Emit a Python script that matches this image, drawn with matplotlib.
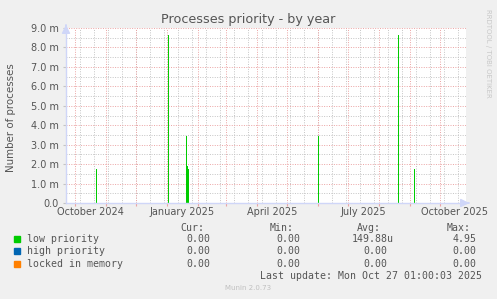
import pandas as pd
import matplotlib
matplotlib.use('Agg')
import matplotlib.pyplot as plt
import matplotlib.ticker as ticker

# data (daily averages, 1 px = 1 day)
spike_dates = ['2024-10-22', '2025-01-02', '2025-01-20', '2025-01-21', '2025-01-22',
               '2025-06-01', '2025-08-20', '2025-09-05']
low_priority = [1.74e-3, 8.65e-3, 3.47e-3, 1.9e-3, 1.74e-3, 3.47e-3, 8.65e-3, 1.74e-3]

x_labels = ['October 2024', 'January 2025', 'April 2025', 'July 2025', 'October 2025']
x_label_months = ['2024-10-01', '2025-01-01', '2025-04-01', '2025-07-01', '2025-10-01']

legend_names = ['low priority', 'high priority', 'locked in memory']
legend_colors = ['#00CC00', '#0066B3', '#FF8000']
cur_vals = ['0.00', '0.00', '0.00']
min_vals = ['0.00', '0.00', '0.00']
avg_vals = ['149.88u', '0.00', '0.00']
max_vals = ['4.95', '0.00', '0.00']

end = pd.Timestamp('2025-10-27 01:00:03')
start = end - pd.Timedelta(days=400)

FONT = '#555555'
MGRID = '#EBA3A3'
GRID = '#C4C4C4'
AXIS = '#CFD6F8'

W, H = 497, 299
fig = plt.figure(figsize=(W / 100, H / 100), dpi=100, facecolor='#F0F0F0')
L, R, T, B = 66, 466, 28, 203
ax = fig.add_axes([L / W, 1 - B / H, (R - L) / W, (B - T) / H])
ax.set_facecolor('white')

ax.set_xlim(start, end)
ax.set_ylim(0, 9e-3)

# grid, drawn by hand like rrdtool (dotted)
dots = (0, (1, 1.5))
for d in pd.date_range('2024-09-22', end, freq='14D'):
    if d > start:
        ax.axvline(d, color=GRID, lw=0.7, ls=dots, zorder=0)
for d in pd.date_range('2024-10-01', end, freq='MS'):
    ax.axvline(d, color=MGRID, lw=0.7, ls=dots, zorder=0)
for i in range(19):
    v = i * 0.5e-3
    ax.axhline(v, color=MGRID if i % 2 == 0 else GRID, lw=0.7, ls=dots, zorder=0)

xs = pd.to_datetime(spike_dates) + pd.Timedelta(hours=12)
ax.bar(xs, low_priority, width=1.7, color=legend_colors[0], zorder=3)

# ticks
ax.set_yticks([i * 1e-3 for i in range(10)])
ax.yaxis.set_major_formatter(ticker.FuncFormatter(
    lambda v, p: '0.0' if v == 0 else '%.1f m' % (v * 1000)))
ax.set_xticks(pd.date_range('2024-10-01', end, freq='MS'))
ax.set_xticklabels([])
ax.set_xticks(pd.to_datetime(x_label_months) + pd.Timedelta(days=15), x_labels, minor=True)
ax.tick_params(axis='x', which='major', length=2, color=MGRID, direction='out')
ax.tick_params(axis='x', which='minor', length=0, pad=3, labelsize=7, labelcolor=FONT)
ax.tick_params(axis='y', length=2, color=GRID, pad=3, labelsize=7, labelcolor=FONT)

for s in ['top', 'right']:
    ax.spines[s].set_visible(False)
for s in ['left', 'bottom']:
    ax.spines[s].set_color(AXIS)
    ax.spines[s].set_linewidth(1)
    ax.spines[s].set_zorder(4)

# axis arrows
ax.annotate('', xy=((472 - L) / (R - L), 0), xytext=(1, 0), xycoords='axes fraction',
            arrowprops=dict(arrowstyle='-|>,head_length=0.5,head_width=0.25', color=AXIS, lw=1),
            annotation_clip=False)
ax.annotate('', xy=(0, 1 + 6 / (B - T)), xytext=(0, 1), xycoords='axes fraction',
            arrowprops=dict(arrowstyle='-|>,head_length=0.5,head_width=0.25', color=AXIS, lw=1),
            annotation_clip=False)

ax.set_ylabel('Number of processes', fontsize=7.4, color=FONT)
ax.yaxis.set_label_coords(-(L - 16) / (R - L), 0.49)

fig.text(248 / W, 1 - 20 / H, 'Processes priority - by year', ha='center', va='center',
         fontsize=9.2, color=FONT)
fig.text(488 / W, 1 - 53 / H, 'RRDTOOL / TOBI OETIKER', rotation=270, ha='center', va='center',
         fontsize=5, color='#C8C8C8')

# legend block
mono = 'DejaVu Sans Mono'
fs = 7.1
cols = [(204.7, 'Cur:'), (294, 'Min:'), (381, 'Avg:'), (470.7, 'Max:')]
for x, head in cols:
    fig.text(x / W, 1 - 228.3 / H, head, ha='right', va='center', family=mono, fontsize=fs, color=FONT)
rows_y = [239.3, 251.3, 263.7]
for i, name in enumerate(legend_names):
    y = 1 - rows_y[i] / H
    fig.patches.append(plt.Rectangle((14 / W, 1 - (rows_y[i] + 3) / H), 6 / W, 6 / H,
                                     transform=fig.transFigure, color=legend_colors[i]))
    fig.text(26.7 / W, y, name, ha='left', va='center', family=mono, fontsize=fs, color=FONT)
    fig.text(210.7 / W, y, cur_vals[i], ha='right', va='center', family=mono, fontsize=fs, color=FONT)
    fig.text(300 / W, y, min_vals[i], ha='right', va='center', family=mono, fontsize=fs, color=FONT)
    avg_x = 393.3 if avg_vals[i].endswith('u') else 387.7
    fig.text(avg_x / W, y, avg_vals[i], ha='right', va='center', family=mono, fontsize=fs, color=FONT)
    fig.text(476.7 / W, y, max_vals[i], ha='right', va='center', family=mono, fontsize=fs, color=FONT)

fig.text(482.3 / W, 1 - 275.7 / H, 'Last update: Mon Oct 27 01:00:03 2025', ha='right', va='center',
         family=mono, fontsize=fs, color=FONT)
fig.text(248 / W, 1 - 288 / H, 'Munin 2.0.73', ha='center', va='center', fontsize=5, color='#C0C0C0')

fig.savefig('out.png', dpi=100, facecolor=fig.get_facecolor())
